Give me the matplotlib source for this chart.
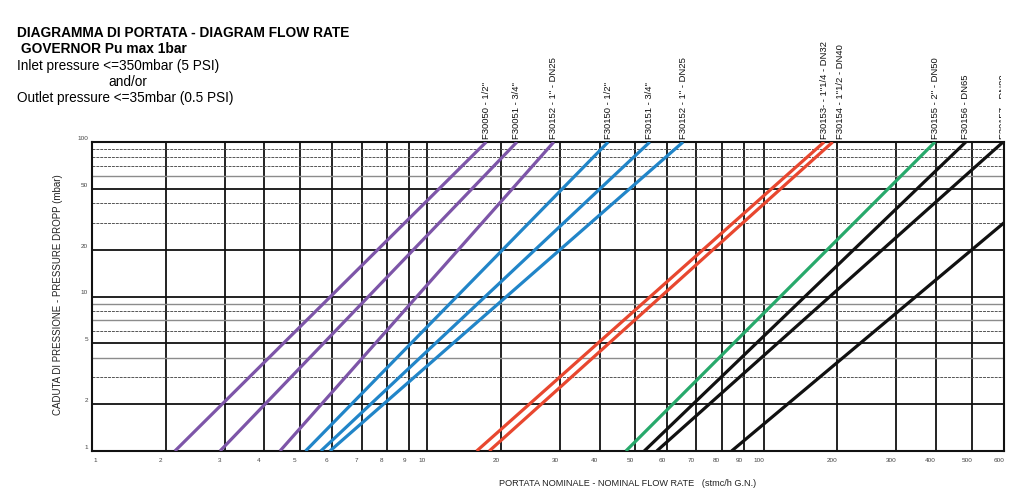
import numpy as np
import matplotlib
matplotlib.use("Agg")
import matplotlib.pyplot as plt
import matplotlib.transforms as mtransforms
from matplotlib.ticker import FixedLocator, FixedFormatter, NullLocator

plt.rcParams['font.family'] = ['Liberation Sans', 'DejaVu Sans']

models = ['F30050 - 1/2"', 'F30051 - 3/4"', 'F30152 - 1" - DN25',
          'F30150 - 1/2"', 'F30151 - 3/4"', 'F30152 - 1" - DN25',
          'F30153- - 1"1/4 - DN32', 'F30154 - 1"1/2 - DN40',
          'F30155 - 2" - DN50', 'F30156 - DN65', 'F30157 - DN80', '']
colors = ['#7d55a8', '#7d55a8', '#7d55a8',
          '#2185c8', '#2185c8', '#2185c8',
          '#e8472f', '#e8472f', '#27a96b',
          '#111111', '#111111', '#111111']
q_start = [2.13, 2.90, 4.42, 5.17, 5.64, 5.94, 15.9, 17.9, 47.2, 52.7, 56.6, 84.3]
dp_start = [1] * 12
q_end = [17.4, 22.3, 28.7, 42.2, 54.4, 65.3, 177, 192, 398, 482, 597, 600]
dp_end = [100] * 11 + [30]

# Assi
x_ticks = [1, 2, 3, 4, 5, 6, 7, 8, 9, 10, 20, 30, 40, 50, 60, 70, 80, 90,
           100, 200, 300, 400, 500, 600]
# spaziatura della scala stampata (non perfettamente logaritmica)
x_ruler = [92.3, 165.7, 225, 264, 299.7, 331.7, 361.7, 386.7, 409.3, 427.5,
           501, 560.3, 599.7, 635, 667, 696.3, 721.7, 744,
           764, 837, 896.3, 935.7, 971.7, 1004]
y_ticks = [1, 2, 5, 10, 20, 50, 100]
y_thick = [2, 5, 10, 20, 50]
y_grey = [4, 7, 9, 60]
y_dash = [3, 6, 8, 30, 40, 70, 80, 90]

log_ticks = np.log10(x_ticks)


def fwd(x):
    x = np.asarray(x, dtype=float)
    lx = np.log10(np.clip(x, 1e-9, None))
    return np.interp(lx, log_ticks, x_ruler)


def inv(p):
    return 10 ** np.interp(p, x_ruler, log_ticks)


fig = plt.figure(figsize=(10.24, 5.04), dpi=100)
ax = fig.add_axes([92.3 / 1024, 53 / 504, 911.7 / 1024, 309 / 504])
ax.set_xscale('function', functions=(fwd, inv))
ax.set_yscale('log')
ax.set_xlim(1, 600)
ax.set_ylim(1, 100)

# Griglia
for v in x_ticks[1:-1]:
    ax.axvline(v, color='#111111', lw=1.3, zorder=1)
for v in y_thick:
    ax.axhline(v, color='#111111', lw=1.3, zorder=1)
for v in y_grey:
    ax.axhline(v, color='#8c8c8c', lw=1.0, zorder=1)
for v in y_dash:
    ax.axhline(v, color='#555555', lw=0.7, ls=(0, (3, 1)), zorder=1)

for s in ax.spines.values():
    s.set_linewidth(1.5)
    s.set_color('#111111')

# Curve
for i in range(len(models)):
    ax.plot([q_start[i], q_end[i]], [dp_start[i], dp_end[i]],
            color=colors[i], lw=2.3, solid_capstyle='butt', zorder=3)

# Etichette modelli sopra le curve (l'ultima è tagliata dal bordo del foglio)
page = mtransforms.TransformedBbox(
    mtransforms.Bbox([[0, 0], [1001 / 1024, 1]]), fig.transFigure)
trans = mtransforms.blended_transform_factory(ax.transData, ax.transAxes)
for i in range(len(models)):
    if not models[i]:
        continue
    dx = 8 if models[i].startswith('F30154') else 0
    t = trans + mtransforms.ScaledTranslation(dx / 100, 3 / 100, fig.dpi_scale_trans)
    txt = ax.text(q_end[i], 1.0, models[i], transform=t, rotation=90,
                  ha='center', va='bottom', fontsize=6.8, color='#111111')
    txt.set_clip_on(True)
    txt.set_clip_box(page)

# Tick
ax.xaxis.set_major_locator(FixedLocator(x_ticks))
ax.xaxis.set_major_formatter(FixedFormatter([str(v) for v in x_ticks]))
ax.xaxis.set_minor_locator(NullLocator())
ax.yaxis.set_major_locator(FixedLocator(y_ticks))
ax.yaxis.set_major_formatter(FixedFormatter([str(v) for v in y_ticks]))
ax.yaxis.set_minor_locator(NullLocator())
ax.tick_params(axis='both', length=0, labelsize=4.6, labelcolor='#444444')
ax.tick_params(axis='x', pad=5)
ax.tick_params(axis='y', pad=3)

fig.canvas.draw()
for lab in ax.get_xticklabels():
    dx = 3 if lab.get_text() == '1' else -5
    lab.set_transform(lab.get_transform() +
                      mtransforms.ScaledTranslation(dx / 100, 0, fig.dpi_scale_trans))
for lab in ax.get_yticklabels():
    lab.set_transform(lab.get_transform() +
                      mtransforms.ScaledTranslation(0, 4 / 100, fig.dpi_scale_trans))

ax.set_xlabel('PORTATA NOMINALE - NOMINAL FLOW RATE   (stmc/h G.N.)',
              fontsize=6.6, color='#222222', va='center')
ax.xaxis.set_label_coords(0.587, -0.104)
ax.set_ylabel('CADUTA DI PRESSIONE - PRESSURE DROPP (mbar)',
              fontsize=7.0, color='#222222', va='center')
ax.yaxis.set_label_coords(-0.038, 0.505)

# Intestazione
fig.text(17 / 1024, 1 - 36.7 / 504, 'DIAGRAMMA DI PORTATA - DIAGRAM FLOW RATE',
         fontsize=9.95, fontweight='bold', va='baseline')
fig.text(17 / 1024, 1 - 52.7 / 504, ' GOVERNOR Pu max 1bar',
         fontsize=9.95, fontweight='bold', va='baseline')
fig.text(17 / 1024, 1 - 70 / 504, 'Inlet pressure <=350mbar (5 PSI)',
         fontsize=9.8, va='baseline')
fig.text(108 / 1024, 1 - 86 / 504, 'and/or', fontsize=9.8, va='baseline')
fig.text(17 / 1024, 1 - 102.3 / 504, 'Outlet pressure <=35mbar (0.5 PSI)',
         fontsize=9.8, va='baseline')

fig.savefig('out.png', dpi=100)
